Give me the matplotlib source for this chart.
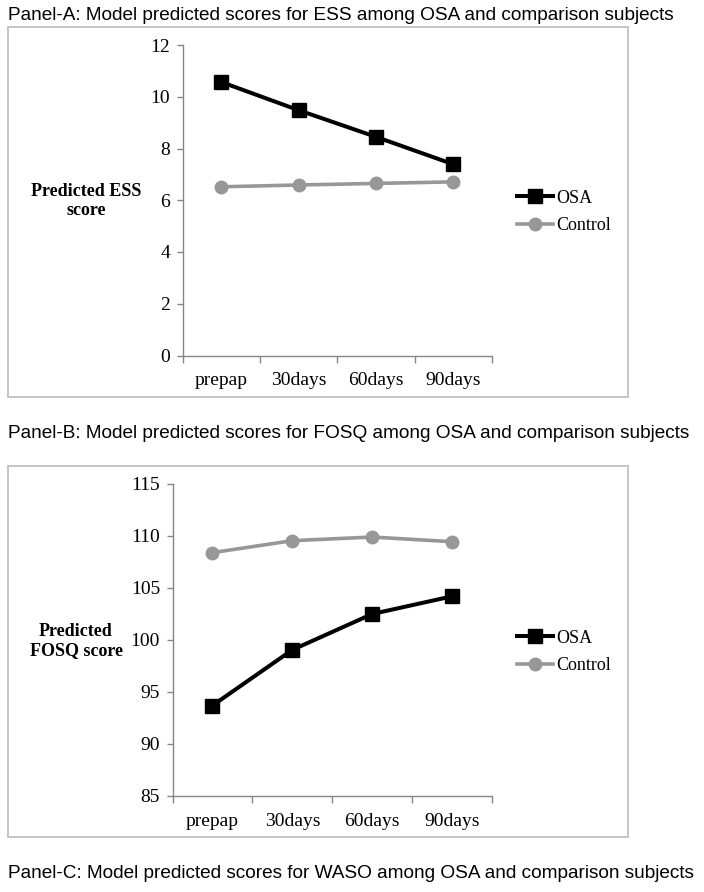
import matplotlib
matplotlib.use("Agg")
import matplotlib.pyplot as plt
from matplotlib.patches import Rectangle
import numpy as np

# données
categories = ["prepap", "30days", "60days", "90days"]
ess_osa = [10.57, 9.48, 8.45, 7.39]
ess_control = [6.52, 6.59, 6.65, 6.71]
fosq_osa = [93.7, 99.05, 102.5, 104.2]
fosq_control = [108.4, 109.55, 109.9, 109.45]

titles = [
    "Panel-A: Model predicted scores for ESS among OSA and comparison subjects",
    "Panel-B: Model predicted scores for FOSQ among OSA and comparison subjects",
    "Panel-C: Model predicted scores for WASO among OSA and comparison subjects",
]

W, H = 704, 892
fig = plt.figure(figsize=(W / 100, H / 100), dpi=100)

serif = "Liberation Serif"
sans = "Liberation Sans"
axis_grey = "#868686"
ctrl_grey = "#979797"


def fx(px):
    return px / W


def fy(py):
    return 1 - py / H


# titres des panneaux
for t, y in zip(titles, [15, 433, 873]):
    fig.text(fx(8), fy(y), t, family=sans, fontsize=13.65, va="center", ha="left")

# cadres gris autour des graphiques
for top, bottom in [(27, 397), (466, 837)]:
    fig.patches.append(Rectangle((fx(8), fy(bottom)), fx(628) - fx(8), fy(top) - fy(bottom),
                                 transform=fig.transFigure, fill=False,
                                 edgecolor="#c0c0c0", linewidth=1.3))


def panel(rect, osa, ctrl, ylim, yticks, ylabel, label_xy, legend_y):
    ax = fig.add_axes(rect)
    x = np.arange(len(categories))
    ax.plot(x, osa, color="black", lw=2.9, marker="s", ms=9.5, label="OSA")
    ax.plot(x, ctrl, color=ctrl_grey, lw=2.6, marker="o", ms=9, label="Control")
    ax.set_xlim(-0.5, len(categories) - 0.5)
    ax.set_ylim(*ylim)
    ax.set_yticks(yticks)
    ax.set_xticks(x)
    ax.set_xticklabels(categories)
    ax.set_xticks(np.arange(-0.5, len(categories)), minor=True)
    for s in ["top", "right"]:
        ax.spines[s].set_visible(False)
    for s in ["left", "bottom"]:
        ax.spines[s].set_color(axis_grey)
        ax.spines[s].set_linewidth(1.0)
    ax.tick_params(axis="x", which="major", length=0, pad=12)
    ax.tick_params(axis="x", which="minor", length=5, color=axis_grey, width=1.0)
    ax.tick_params(axis="y", length=4, color=axis_grey, width=1.0, pad=5)
    for lab in ax.get_xticklabels() + ax.get_yticklabels():
        lab.set_family(serif)
        lab.set_fontsize(14)
    fig.text(fx(label_xy[0]), fy(label_xy[1]), ylabel, family=serif, fontsize=13,
             fontweight="bold", ha="center", va="center", linespacing=1.15)
    ax.legend(loc="center left", bbox_to_anchor=(fx(517), fy(legend_y)),
              bbox_transform=fig.transFigure, frameon=False, prop={"family": serif, "size": 13},
              handlelength=2.0, handletextpad=0.15, borderpad=0, borderaxespad=0,
              labelspacing=0.6)
    return ax


panel([fx(182.5), fy(355.5), fx(492) - fx(182.5), fy(45) - fy(355.5)],
      ess_osa, ess_control, (0, 12), np.arange(0, 13, 2),
      "Predicted ESS\nscore", (86, 201), 212)

panel([fx(172.5), fy(796), fx(492) - fx(172.5), fy(484) - fy(796)],
      fosq_osa, fosq_control, (85, 115), np.arange(85, 116, 5),
      "Predicted\nFOSQ score", (76, 641), 652)

plt.savefig("out.png", dpi=100)
